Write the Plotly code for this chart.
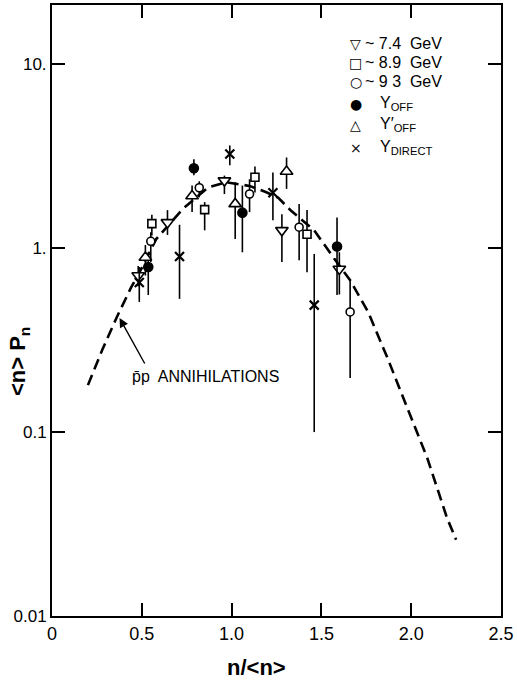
import plotly.graph_objects as go

# ---------------- data ----------------
# ~7.4 GeV (inverted triangles)
x74 = [0.48, 0.643, 0.96, 1.28, 1.60]
y74 = [0.71, 1.38, 2.33, 1.25, 0.77]
hi74 = [0.80, 1.61, 2.48, 1.53, 0.95]
lo74 = [0.62, 1.18, 1.97, 0.84, 0.56]

# ~8.9 GeV (squares)
x89 = [0.556, 0.85, 1.13, 1.42]
y89 = [1.36, 1.62, 2.43, 1.19]
hi89 = [1.52, 1.78, 2.78, 1.61]
lo89 = [1.17, 1.25, 2.01, 0.74]

# ~9.3 GeV (open circles)
x93 = [0.55, 0.82, 1.10, 1.376, 1.66]
y93 = [1.09, 2.13, 1.97, 1.30, 0.45]
hi93 = [1.22, 2.31, 2.37, 1.74, 0.67]
lo93 = [0.84, 1.89, 1.57, 0.86, 0.197]

# Upsilon OFF (filled circles)
xoff = [0.536, 0.79, 1.06, 1.587]
yoff = [0.79, 2.72, 1.56, 1.02]
hioff = [0.95, 3.04, 2.19, 1.47]
looff = [0.556, 2.49, 0.95, 0.556]

# Upsilon' OFF (triangles up)
xoffp = [0.52, 0.78, 1.02, 1.306]
yoffp = [0.89, 1.92, 1.74, 2.61]
hioffp = [1.04, 2.19, 2.28, 3.11]
looffp = [0.71, 1.57, 1.12, 2.10]

# Upsilon DIRECT (crosses)
xdir = [0.486, 0.71, 0.99, 1.23, 1.46]
ydir = [0.65, 0.90, 3.25, 2.00, 0.49]
hidir = [0.79, 1.34, 3.62, 2.58, 0.93]
lodir = [0.51, 0.53, 2.82, 1.42, 0.10]

# pbar-p annihilation curve (dashed)
xcurve = [0.20, 0.28, 0.36, 0.44, 0.50, 0.58, 0.73, 0.87, 0.97, 1.10, 1.19,
          1.26, 1.33, 1.46, 1.57, 1.66, 1.76, 1.87, 1.98, 2.09, 2.20, 2.25]
ycurve = [0.18, 0.28, 0.42, 0.61, 0.78, 1.12, 1.64, 2.14, 2.28, 2.18, 2.02,
          1.88, 1.60, 1.25, 0.88, 0.67, 0.45, 0.25, 0.134, 0.072, 0.034, 0.026]

xtickvals = [0, 0.5, 1.0, 1.5, 2.0, 2.5]
xticktext = ["0", "0.5", "1.0", "1.5", "2.0", "2.5"]
ytickvals = [0.01, 0.1, 1, 10]
yticktext = ["0.01", "0.1", "1.", "10."]

legend_labels = ["~ 7.4  GeV", "~ 8.9  GeV", "~ 9 3  GeV",
                 "Υ<sub>OFF</sub>", "Υ′<sub>OFF</sub>", "Υ<sub>DIRECT</sub>"]
legend_symbols = ["▽", "□", "○", "●", "△", "×"]

FONT = "Liberation Sans, Arial, sans-serif"

fig = go.Figure()

fig.add_trace(go.Scatter(x=xcurve, y=ycurve, mode="lines",
                         line=dict(color="black", width=2.6, dash="11px,6px"),
                         showlegend=False, hoverinfo="skip"))


def add_series(xs, ys, his, los, symbol, size, filled=False):
    fig.add_trace(go.Scatter(
        x=xs, y=ys, mode="markers",
        marker=dict(symbol=symbol, size=size,
                    color="black" if filled else "white",
                    line=dict(color="black", width=1.6)),
        error_y=dict(type="data", symmetric=False,
                     array=[h - y for h, y in zip(his, ys)],
                     arrayminus=[y - l for y, l in zip(ys, los)],
                     color="black", thickness=1.6, width=0),
        showlegend=False))


add_series(x74, y74, hi74, lo74, "triangle-down", 11)
add_series(x89, y89, hi89, lo89, "square", 8)
add_series(x93, y93, hi93, lo93, "circle", 8)
add_series(xoff, yoff, hioff, looff, "circle", 9, filled=True)
add_series(xoffp, yoffp, hioffp, looffp, "triangle-up", 11)
fig.add_trace(go.Scatter(
    x=xdir, y=ydir, mode="markers",
    marker=dict(symbol="x-thin", size=9, color="black",
                line=dict(color="black", width=2.2)),
    error_y=dict(type="data", symmetric=False,
                 array=[h - y for h, y in zip(hidir, ydir)],
                 arrayminus=[y - l for y, l in zip(ydir, lodir)],
                 color="black", thickness=1.6, width=0),
    showlegend=False))

# ---- layout geometry (pixels) ----
W, H = 517, 686
L, R, T, B = 52, 504, 3, 616


def px(xp):
    return (xp - L) / (R - L)


def py(yp):
    return (B - yp) / (B - T)


annotations = []
# legend rows
rows_y = [42, 61, 80, 102, 123, 146]
for i, (sym, lab, yy) in enumerate(zip(legend_symbols, legend_labels, rows_y)):
    annotations.append(dict(xref="paper", yref="paper", x=px(358), y=py(yy),
                            text=sym, showarrow=False, xanchor="center", yanchor="middle",
                            font=dict(family="DejaVu Sans", size=14, color="black")))
    xt = 365 if i < 3 else 380
    annotations.append(dict(xref="paper", yref="paper", x=px(xt), y=py(yy),
                            text=lab, showarrow=False, xanchor="left", yanchor="middle",
                            font=dict(family=FONT, size=16, color="black")))

# pbar p annotation
annotations.append(dict(xref="paper", yref="paper", x=px(131), y=py(376),
                        text="p\u0304p  ANNIHILATIONS", showarrow=False,
                        xanchor="left", yanchor="middle",
                        font=dict(family=FONT, size=16, color="black")))
annotations.append(dict(xref="paper", yref="paper", x=px(120), y=py(317),
                        ax=26, ay=47, axref="pixel", ayref="pixel",
                        text="", showarrow=True, arrowhead=2, arrowsize=1.3,
                        arrowwidth=1.4, arrowcolor="black"))
# axis titles
annotations.append(dict(xref="paper", yref="paper", x=px(258), y=py(668),
                        text="<b>n/&lt;n&gt;</b>", showarrow=False,
                        xanchor="center", yanchor="middle",
                        font=dict(family=FONT, size=22, color="black")))
annotations.append(dict(xref="paper", yref="paper", x=px(19), y=py(361),
                        text="<b>&lt;n&gt; P<sub>n</sub></b>", showarrow=False,
                        textangle=-90, xanchor="center", yanchor="middle",
                        font=dict(family=FONT, size=22, color="black")))

fig.update_layout(
    width=W, height=H,
    margin=dict(l=L, r=W - R, t=T, b=H - B, pad=0),
    plot_bgcolor="white", paper_bgcolor="white",
    font=dict(family=FONT, color="black"),
    annotations=annotations,
    showlegend=False,
)
fig.update_xaxes(range=[0, 2.5], tickvals=xtickvals, ticktext=xticktext,
                 ticks="inside", ticklen=13, tickwidth=1.6, tickcolor="black",
                 showline=True, linecolor="black", linewidth=2, mirror="allticks",
                 showgrid=False, zeroline=False,
                 tickfont=dict(family=FONT, size=18, color="black"))
fig.update_yaxes(type="log", range=[-2, 1.322], tickvals=ytickvals, ticktext=yticktext,
                 ticks="inside", ticklen=13, tickwidth=1.6, tickcolor="black",
                 showline=True, linecolor="black", linewidth=2, mirror="allticks",
                 showgrid=False, zeroline=False,
                 tickfont=dict(family=FONT, size=17, color="black"))

fig.write_html("out.html", config={"displayModeBar": False},
               post_script="document.body.style.margin='0px';document.body.style.overflow='hidden';")
